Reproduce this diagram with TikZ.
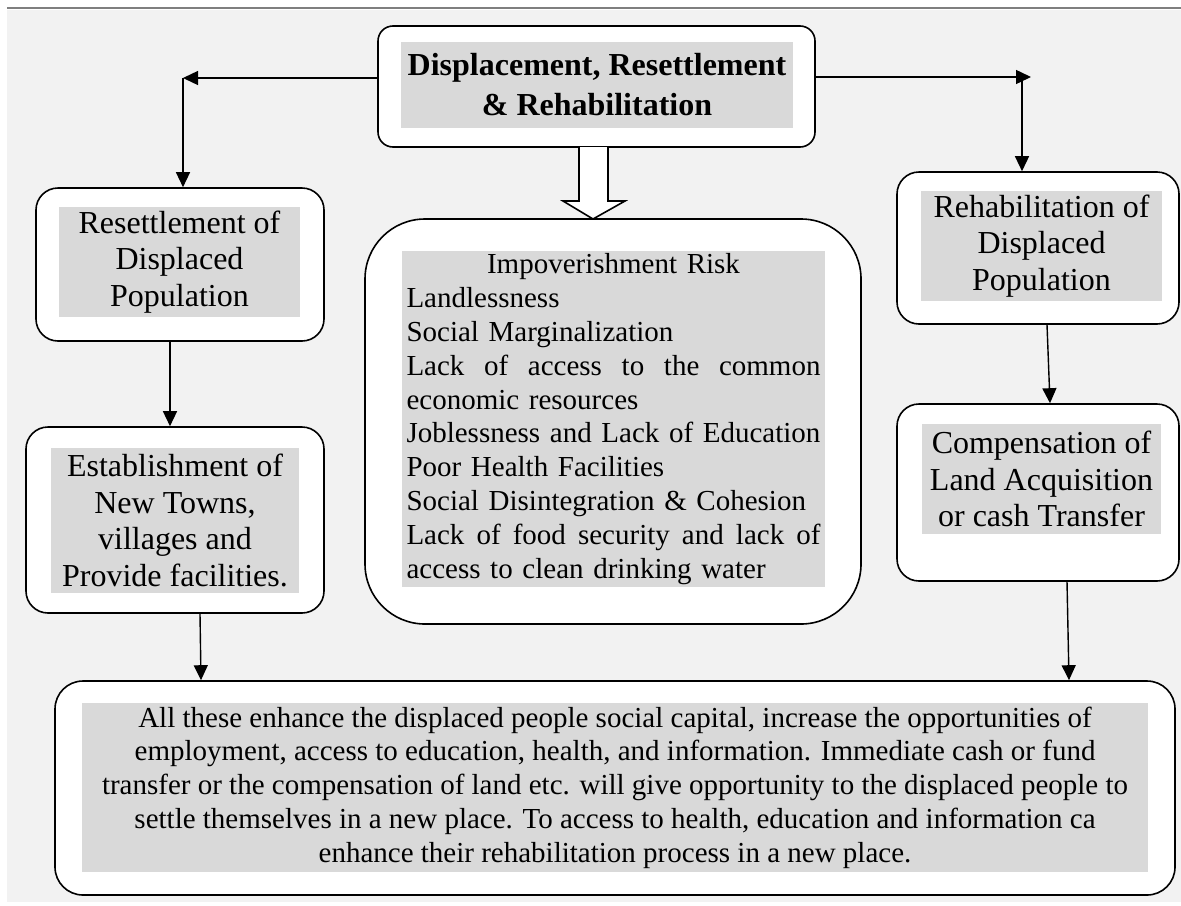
\documentclass[tikz,border=0pt]{standalone}
\usepackage{fontspec}
\setmainfont{Liberation Serif}
\usetikzlibrary{calc,arrows.meta}
\definecolor{pagegray}{HTML}{F2F2F2}
\definecolor{textgray}{HTML}{D9D9D9}
\definecolor{rulegray}{HTML}{7F7F7F}
\tikzset{
	outerbox/.style={draw=black, fill=white, line width=0.8pt, rounded corners=11pt, inner sep=0pt},
	shadebox/.style={fill=textgray, inner sep=0pt, align=center, font=\fontsize{16}{18.3}\selectfont},
	smalltext/.style={font=\fontsize{14.5}{16.9}\selectfont},
	link/.style={line width=0.7pt, -{Triangle[length=7.5pt,width=7pt]}}
}

\begin{document}
\begin{tikzpicture}[x=0.5pt, y=-0.5pt]
		%%%%% START %%%%%
		\useasboundingbox (0, 0) rectangle (1181, 905);
		\fill[pagegray] (7, 10) rectangle (1181, 902);
		\draw[rulegray, line width=1pt] (7, 8) -- (1181, 8);
		
		% top
		\node[outerbox, rounded corners=7.5pt, minimum width=218.5pt, minimum height=60.5pt] (title) at (596.5, 86.5) {};
		\node[shadebox, font=\bfseries\fontsize{16}{20}\selectfont, minimum width=196pt, minimum height=43pt] (titletext) at (597, 85) {Displacement, Resettlement\\\& Rehabilitation};
		
		% left column
		\node[outerbox, minimum width=144pt, minimum height=76.5pt] (resettle) at (180, 264.5) {};
		\node[shadebox, minimum width=120.5pt, minimum height=55pt] (resettletext) at (179.5, 262) {Resettlement of\\Displaced\\Population};
		
		\node[outerbox, minimum width=149pt, minimum height=93pt] (establish) at (175, 520) {};
		\node[shadebox, minimum width=124pt, minimum height=72.5pt] (establishtext) at (175, 520.5) {Establishment of\\New Towns,\\villages and\\Provide facilities.};
		
		% middle
		\node[outerbox, rounded corners=30pt, minimum width=248pt, minimum height=202.5pt] (risk) at (613, 421.5) {};
		\node[shadebox, smalltext, align=left, text width=207pt, inner xsep=2.25pt, minimum height=168pt] (risktext) at (613.5, 419) {\makebox[207pt]{Impoverishment Risk}\\Landlessness\\Social Marginalization\\\makebox[207pt]{Lack\hfill of\hfill access\hfill to\hfill the\hfill common}\\economic resources\\Joblessness and Lack of Education\\Poor Health Facilities\\Social Disintegration \& Cohesion\\\makebox[207pt]{Lack\hfill of\hfill food\hfill security\hfill and\hfill lack\hfill of}\\access to clean drinking water};
		
		% right column
		\node[outerbox, minimum width=141pt, minimum height=76pt] (rehab) at (1038, 248) {};
		\node[shadebox, minimum width=120.5pt, minimum height=55pt] (rehabtext) at (1041.5, 246) {Rehabilitation of\\Displaced\\Population};
		
		\node[outerbox, minimum width=141pt, minimum height=88.5pt] (comp) at (1038, 492.5) {};
		\node[shadebox, minimum width=119.5pt, minimum height=55pt] (comptext) at (1041.5, 479) {Compensation of\\Land Acquisition\\or cash Transfer};
		
		% bottom
		\node[outerbox, rounded corners=14pt, minimum width=560pt, minimum height=107pt] (summary) at (615, 788) {};
		\node[shadebox, smalltext, minimum width=533pt, minimum height=84.5pt] (summarytext) at (615, 787.5) {All these enhance the displaced people social capital, increase the opportunities of\\employment, access to education, health, and information. Immediate cash or fund\\transfer or the compensation of land etc. will give opportunity to the displaced people to\\settle themselves in a new place. To access to health, education and information ca\\enhance their rehabilitation process in a new place.};
		
		% arrows
		\coordinate (lbend) at (183, 78);
		\coordinate (rbend) at (1031, 77);
		\coordinate (rdrop) at (1022, 77);
		\draw[link] (title.west |- lbend) -- (lbend);
		\draw[link] (lbend) -- (lbend |- resettle.north);
		\draw[link] (title.east |- rbend) -- (rbend);
		\draw[link] (rdrop) -- (rdrop |- rehab.north);
		
		\draw[line width=0.8pt, fill=white] (579, 147) -- (579, 201) -- (563, 201) -- (593, 219) -- (625, 201) -- (608, 201) -- (608, 147);
		
		\draw[link] ($(resettle.south)+(-10, 0)$) -- ($(establish.north)+(-5, 0)$);
		\draw[link] ($(establish.south)+(25, 0)$) -- ($(summary.north)+(-414, 0)$);
		\draw[link] ($(rehab.south)+(9, 0)$) -- ($(comp.north)+(12, 0)$);
		\draw[link] ($(comp.south)+(29, 0)$) -- ($(summary.north)+(454, 0)$);
		%%%%% END %%%%%
\end{tikzpicture}
\end{document}
